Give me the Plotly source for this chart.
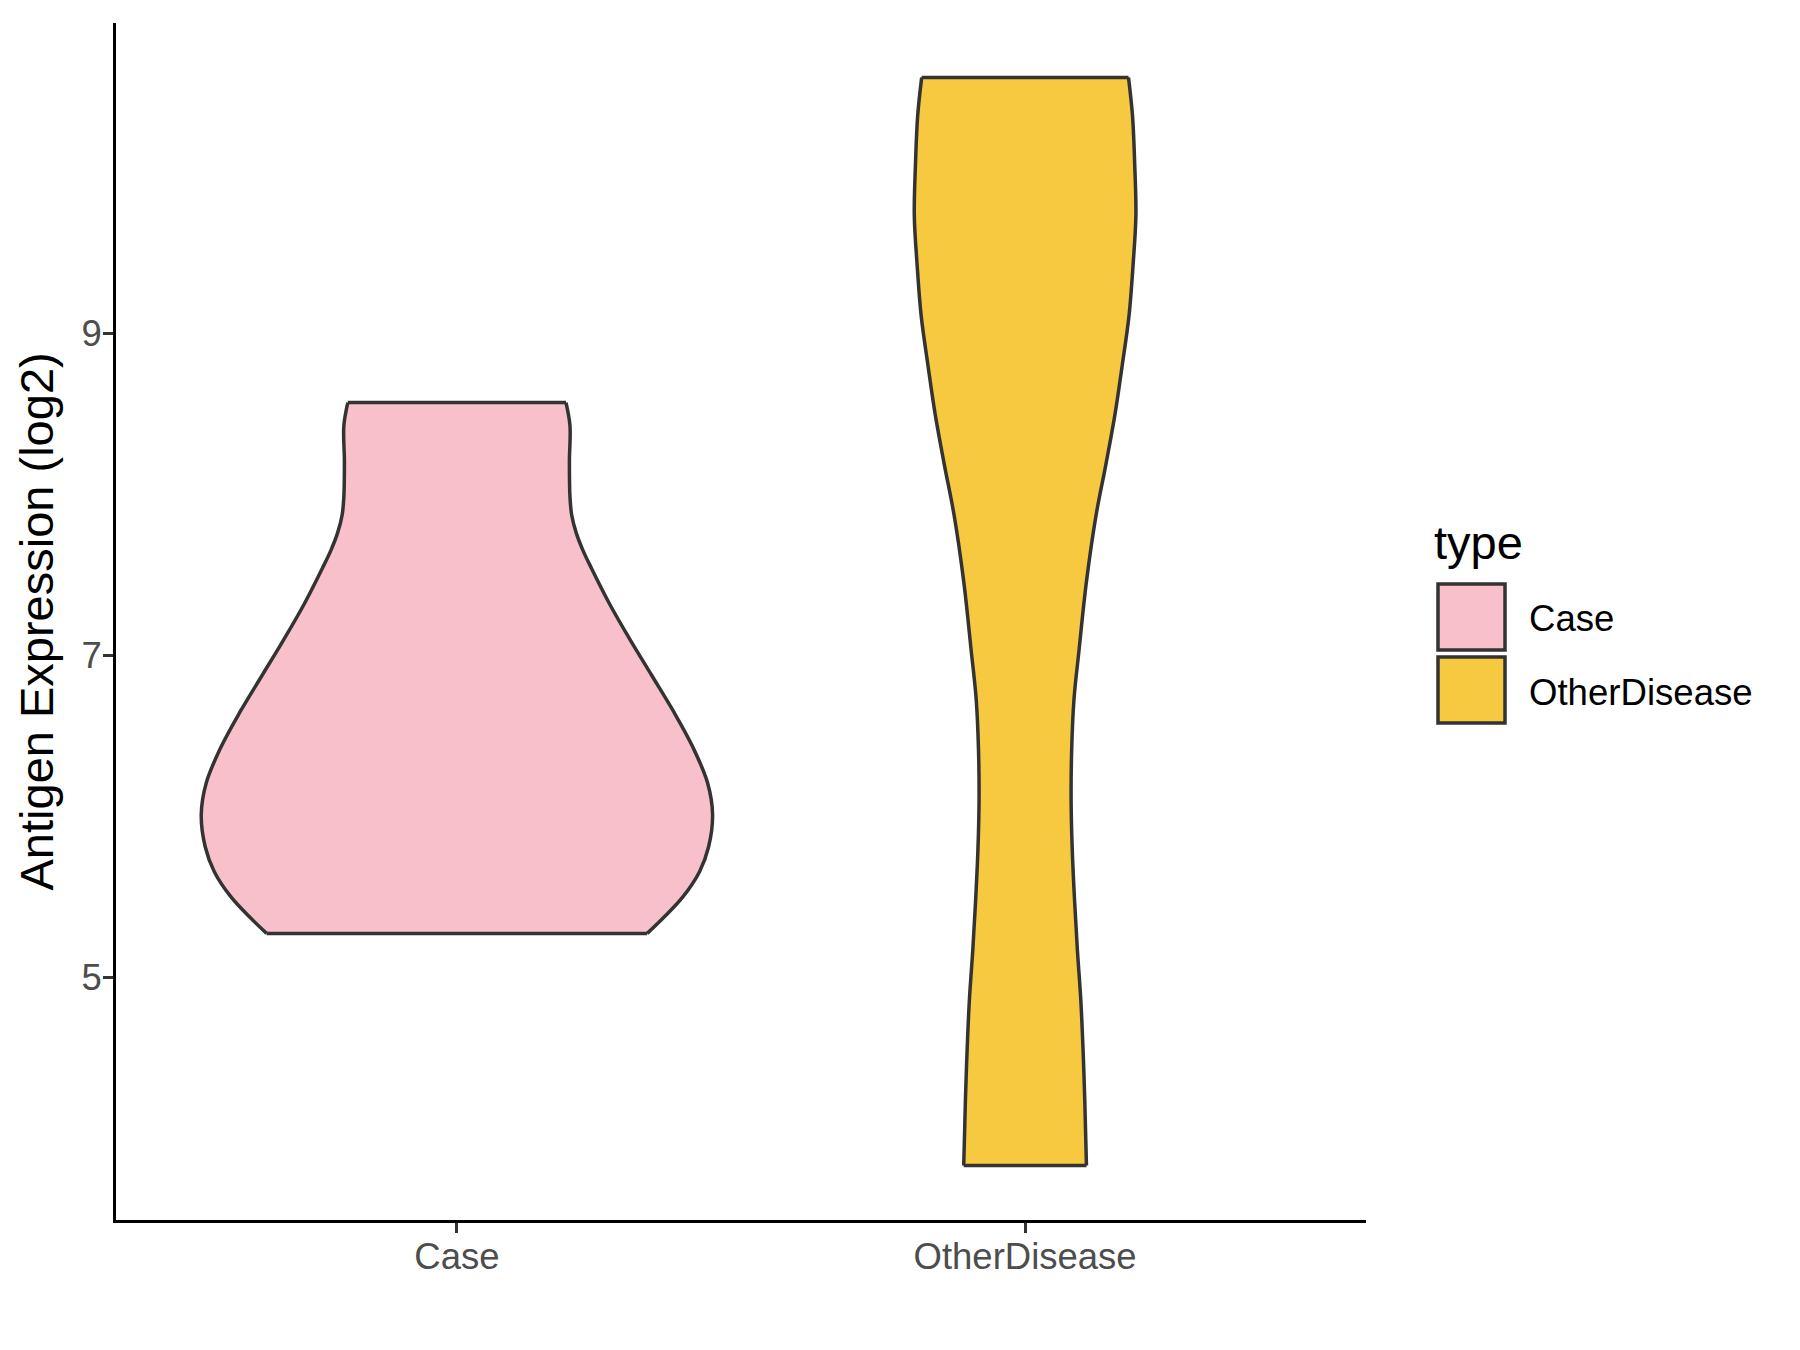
import plotly.graph_objects as go

# ---- data ----
categories = ["Case", "OtherDisease"]
cat_pos = [1, 2]
colors = ["#F7C0CB", "#F6C940"]

# Case violin: y values (top -> bottom) and half-widths (in category units)
case_y = [8.569, 8.425, 8.203, 7.982, 7.871, 7.760, 7.650, 7.539, 7.317, 7.096,
          6.875, 6.653, 6.432, 6.210, 6.011, 5.812, 5.657, 5.502, 5.369, 5.274]
case_hw = [0.192, 0.199, 0.198, 0.199, 0.202, 0.210, 0.222, 0.237, 0.269, 0.305,
           0.343, 0.381, 0.415, 0.441, 0.450, 0.443, 0.427, 0.398, 0.363, 0.335]

# OtherDisease violin
od_y = [10.587, 10.351, 10.041, 9.731, 9.421, 9.111, 8.801, 8.491, 8.181, 7.871,
        7.458, 7.034, 6.724, 6.414, 6.104, 5.794, 5.484, 5.174, 4.864, 4.554,
        4.244, 3.833]
od_hw = [0.182, 0.189, 0.193, 0.195, 0.190, 0.183, 0.171, 0.158, 0.142, 0.125,
         0.108, 0.095, 0.086, 0.082, 0.081, 0.083, 0.087, 0.092, 0.098, 0.102,
         0.105, 0.108]

y_ticks = [5, 7, 9]
y_range = [3.495, 10.925]

FONT = "Liberation Sans, Arial, sans-serif"
W, H = 1792, 1342          # page body has an 8px margin
ML, MR, MT, MB = 108, 434, 15, 130
OUT = "#333333"
LW = 3.5
SM = 1.0

fig = go.Figure()

violins = [(cat_pos[0], case_y, case_hw, colors[0], categories[0]),
           (cat_pos[1], od_y, od_hw, colors[1], categories[1])]

# filled bodies
for pos, ys, hws, col, name in violins:
    right_x = [pos + h for h in hws]
    left_x = [pos - h for h in hws]
    fig.add_trace(go.Scatter(x=right_x + left_x[::-1], y=list(ys) + list(ys)[::-1],
                             mode="lines", fill="toself", fillcolor=col,
                             line=dict(width=1, color=col),
                             name=name, showlegend=False, hoverinfo="skip"))

# outlines: smooth sides (one trace each), straight top and bottom
for pos, ys, hws, col, name in violins:
    right_x = [pos + h for h in hws]
    left_x = [pos - h for h in hws]
    for side_x in (right_x, left_x):
        fig.add_trace(go.Scatter(x=side_x, y=list(ys), mode="lines",
                                 line=dict(color=OUT, width=LW, shape="spline",
                                           smoothing=SM),
                                 showlegend=False, hoverinfo="skip"))
    for k in (0, -1):
        fig.add_trace(go.Scatter(x=[left_x[k], right_x[k]], y=[ys[k], ys[k]],
                                 mode="lines", line=dict(color=OUT, width=LW),
                                 showlegend=False, hoverinfo="skip"))

fig.update_layout(
    width=W, height=H,
    margin=dict(l=ML, r=MR, t=MT, b=MB),
    paper_bgcolor="white", plot_bgcolor="white",
    font=dict(family=FONT),
    showlegend=False,
)

fig.update_xaxes(
    range=[0.4, 2.6], tickvals=cat_pos, ticktext=categories,
    showgrid=False, zeroline=False, showline=True, linecolor="black", linewidth=3,
    ticks="outside", ticklen=10, tickwidth=3, tickcolor=OUT,
    ticklabelstandoff=-8,
    tickfont=dict(size=36.5, color="#4D4D4D", family=FONT),
)
fig.update_yaxes(
    range=y_range, tickvals=y_ticks, ticktext=[str(t) for t in y_ticks],
    showgrid=False, zeroline=False, showline=True, linecolor="black", linewidth=3,
    ticks="outside", ticklen=10, tickwidth=3, tickcolor=OUT,
    ticklabelstandoff=-6,
    tickfont=dict(size=36.5, color="#4D4D4D", family=FONT),
)

pw = W - ML - MR
ph = H - MT - MB


def px_x(p):
    return (p - ML) / pw


def px_y(p):
    return (H - MB - p) / ph


# y axis title
fig.add_annotation(text="Antigen Expression (log2)", xref="paper", yref="paper",
                   x=px_x(28), y=0.5, textangle=-90, showarrow=False,
                   xanchor="center", yanchor="middle",
                   font=dict(size=47, color="black", family=FONT))

# legend (drawn manually to match ggplot key size)
fig.add_annotation(text="type", xref="paper", yref="paper",
                   x=px_x(1424), y=px_y(534), showarrow=False,
                   xanchor="left", yanchor="middle",
                   font=dict(size=47, color="black", family=FONT))
key_boxes = [(576, 642), (649, 715)]
label_y = [610, 684]
for i, (cat, col) in enumerate(zip(categories, colors)):
    t, b = key_boxes[i]
    fig.add_shape(type="rect", xref="paper", yref="paper",
                  x0=px_x(1430), x1=px_x(1497), y0=px_y(b), y1=px_y(t),
                  fillcolor=col, line=dict(color=OUT, width=3.5))
    fig.add_annotation(text=cat, xref="paper", yref="paper",
                       x=px_x(1519), y=px_y(label_y[i]), showarrow=False,
                       xanchor="left", yanchor="middle",
                       font=dict(size=36.6, color="black", family=FONT))

fig.write_html("out.html")
